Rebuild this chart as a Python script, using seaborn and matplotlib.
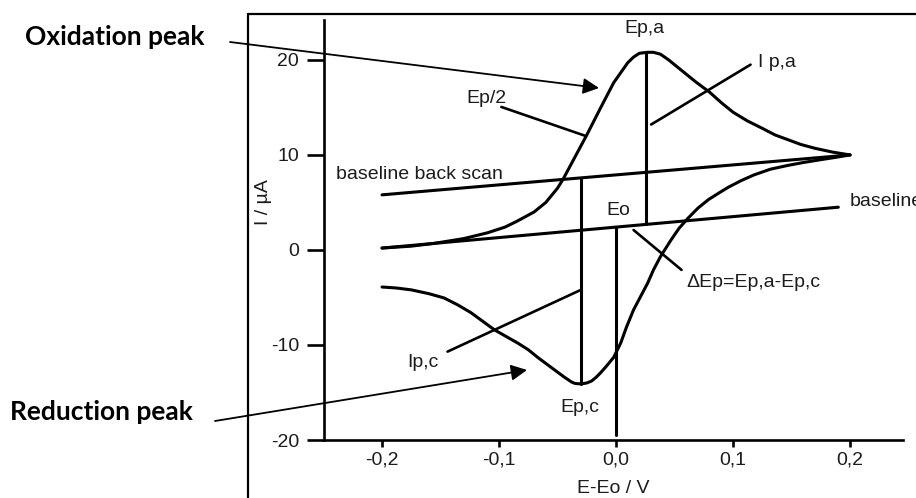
import matplotlib
matplotlib.use("Agg")
import matplotlib.pyplot as plt
from matplotlib.lines import Line2D
import numpy as np
import pandas as pd
import seaborn as sns

# Cyclic voltammogram: forward (oxidation) scan, E-Eo in V, current in µA
forward_e = [-0.2, -0.175, -0.155, -0.13, -0.11, -0.095, -0.085, -0.07, -0.06,
             -0.05, -0.045, -0.035, -0.025, -0.013, -0.002, 0.01, 0.015, 0.02,
             0.027, 0.032, 0.038, 0.045, 0.055, 0.068, 0.08, 0.09, 0.1, 0.112,
             0.125, 0.136, 0.147, 0.158, 0.17, 0.185, 0.2]
forward_i = [0.2, 0.4, 0.7, 1.2, 1.8, 2.4, 3.0, 4.0, 5.0,
             6.5, 7.5, 9.8, 12.1, 15.0, 17.6, 19.7, 20.3, 20.7,
             20.8, 20.8, 20.6, 20.0, 19.0, 17.7, 16.6, 15.5, 14.5, 13.6,
             12.8, 12.1, 11.6, 11.1, 10.7, 10.3, 10.0]

# Reverse (reduction) scan
reverse_e = [0.2, 0.188, 0.175, 0.16, 0.147, 0.132, 0.118, 0.107, 0.096,
             0.088, 0.079, 0.07, 0.062, 0.054, 0.047, 0.038, 0.032, 0.027,
             0.021, 0.015, 0.009, 0.004, -0.002, -0.008, -0.013, -0.017,
             -0.021, -0.025, -0.03, -0.035, -0.038, -0.044, -0.055, -0.067,
             -0.075, -0.084, -0.094, -0.104, -0.114, -0.124, -0.135, -0.147,
             -0.16, -0.175, -0.188, -0.2]
reverse_i = [10.0, 9.75, 9.5, 9.2, 8.9, 8.5, 7.9, 7.3, 6.6,
             6.0, 5.3, 4.4, 3.4, 2.3, 1.05, -0.7, -2.1, -3.5,
             -4.9, -6.3, -8.1, -9.8, -11.3, -12.2, -12.9, -13.4,
             -13.8, -14.0, -14.1, -14.05, -13.9, -13.4, -12.4, -11.3,
             -10.5, -9.8, -9.1, -8.4, -7.5, -6.6, -5.8, -5.05,
             -4.6, -4.2, -4.0, -3.9]

# Extrapolated baselines
baseline_e = [-0.2, 0.19]
baseline_i = [0.2, 4.5]
backscan_e = [-0.2, 0.2]
backscan_i = [5.8, 10.0]

# Vertical markers: Ep,a (peak to baseline), Ep,c (peak to back-scan baseline), Eo
vline_e = [0.026, -0.03, 0.0]
vline_lo = [2.7, -14.1, -19.5]
vline_hi = [20.8, 7.6, 2.4]

# Leader lines from labels to features: (e0, i0, e1, i1)
leader_e0 = [-0.098, 0.115, 0.015, -0.144]
leader_i0 = [15.05, 19.5, 2.1, -10.7]
leader_e1 = [-0.026, 0.030, 0.056, -0.03]
leader_i1 = [12.0, 13.2, -2.1, -4.2]

# Labels placed in data coordinates
label_text = ["Ep,a", "I p,a", "Ep/2", "baseline back scan", "baseline",
              "Eo", "ΔEp=Ep,a-Ep,c", "Ip,c", "Ep,c"]
label_e = [0.024, 0.121, -0.111, -0.239, 0.2, 0.002, 0.06, -0.165, -0.031]
label_i = [23.3, 19.7, 15.9, 7.9, 5.05, 4.2, -3.4, -11.8, -16.6]
label_ha = ["center", "left", "center", "left", "left",
            "center", "left", "center", "center"]

x_ticks = [-0.2, -0.1, 0.0, 0.1, 0.2]
x_tick_labels = ["-0,2", "-0,1", "0,0", "0,1", "0,2"]
y_ticks = [-20, -10, 0, 10, 20]
y_tick_labels = ["-20", "-10", "0", "10", "20"]

sns.set_style("white")
plt.rcParams["font.family"] = ["Liberation Sans", "DejaVu Sans"]

W, H = 916, 498
fig = plt.figure(figsize=(W / 100, H / 100), dpi=100)
ax = fig.add_axes([324 / W, 1 - 440 / H, (903 - 324) / W, (440 - 20) / H])
ax.set_facecolor("white")

ink = "#1c1c1c"
curve_lw = 2.2

fwd = pd.DataFrame({"E": forward_e, "I": forward_i})
rev = pd.DataFrame({"E": reverse_e, "I": reverse_i})
for df in (fwd, rev):
    sns.lineplot(data=df, x="E", y="I", sort=False, estimator=None,
                 color="black", lw=curve_lw, ax=ax,
                 solid_joinstyle="round", solid_capstyle="round")

bl = pd.DataFrame({"E": baseline_e, "I": baseline_i})
bb = pd.DataFrame({"E": backscan_e, "I": backscan_i})
for df in (bl, bb):
    sns.lineplot(data=df, x="E", y="I", sort=False, estimator=None,
                 color="black", lw=curve_lw, ax=ax)

for e, lo, hi in zip(vline_e, vline_lo, vline_hi):
    ax.plot([e, e], [lo, hi], color="black", lw=curve_lw)

for e0, i0, e1, i1 in zip(leader_e0, leader_i0, leader_e1, leader_i1):
    ax.plot([e0, e1], [i0, i1], color="black", lw=1.9)

for t, e, i, ha in zip(label_text, label_e, label_i, label_ha):
    ax.text(e, i, t, ha=ha, va="center", fontsize=14, color=ink, clip_on=False)

ax.set_xlim(-0.2496, 0.2453)
ax.set_ylim(-20, 24.2)
ax.set_xticks(x_ticks)
ax.set_xticklabels(x_tick_labels)
ax.set_yticks(y_ticks)
ax.set_yticklabels(y_tick_labels)
ax.set_xlabel("")
ax.set_ylabel("")
ax.tick_params(axis="y", left=True, length=12, width=1.9, pad=6,
               labelsize=14, labelcolor=ink, color="black")
ax.tick_params(axis="x", bottom=True, length=5, width=1.9, pad=3,
               labelsize=14, labelcolor=ink, color="black")
sns.despine(ax=ax)
for side in ("left", "bottom"):
    ax.spines[side].set_color("black")
    ax.spines[side].set_linewidth(1.9)

fig.text(613 / W, 1 - 488 / H, "E-Eo / V", ha="center", va="center",
         fontsize=14, color=ink)
fig.text(263 / W, 1 - 202 / H, "I / µA", ha="center", va="center",
         rotation=90, fontsize=14, color=ink)

# Outer frame around the plot
fig.add_artist(Line2D([248 / W, 248 / W], [0, 1 - 14 / H],
                      transform=fig.transFigure, color="black", lw=1.6))
fig.add_artist(Line2D([248 / W, 1], [1 - 14 / H, 1 - 14 / H],
                      transform=fig.transFigure, color="black", lw=1.6))

# Call-out labels with arrows pointing at the peaks
fig.text(25 / W, 1 - 37 / H, "Oxidation peak", ha="left", va="center",
         fontsize=19, fontweight="bold", family=["Lato", "DejaVu Sans"],
         color="black")
fig.text(10 / W, 1 - 412 / H, "Reduction peak", ha="left", va="center",
         fontsize=19, fontweight="bold", family=["Lato", "DejaVu Sans"],
         color="black")
arrow_kw = dict(arrowstyle="-|>", mutation_scale=24, lw=1.3, color="black",
                shrinkA=0, shrinkB=0)
ax.annotate("", xy=(599 / W, 1 - 88 / H), xytext=(230 / W, 1 - 42 / H),
            xycoords="figure fraction", textcoords="figure fraction",
            arrowprops=arrow_kw, annotation_clip=False)
ax.annotate("", xy=(527 / W, 1 - 370 / H), xytext=(215 / W, 1 - 421 / H),
            xycoords="figure fraction", textcoords="figure fraction",
            arrowprops=arrow_kw, annotation_clip=False)

fig.savefig("out.png", dpi=100, facecolor="white")
